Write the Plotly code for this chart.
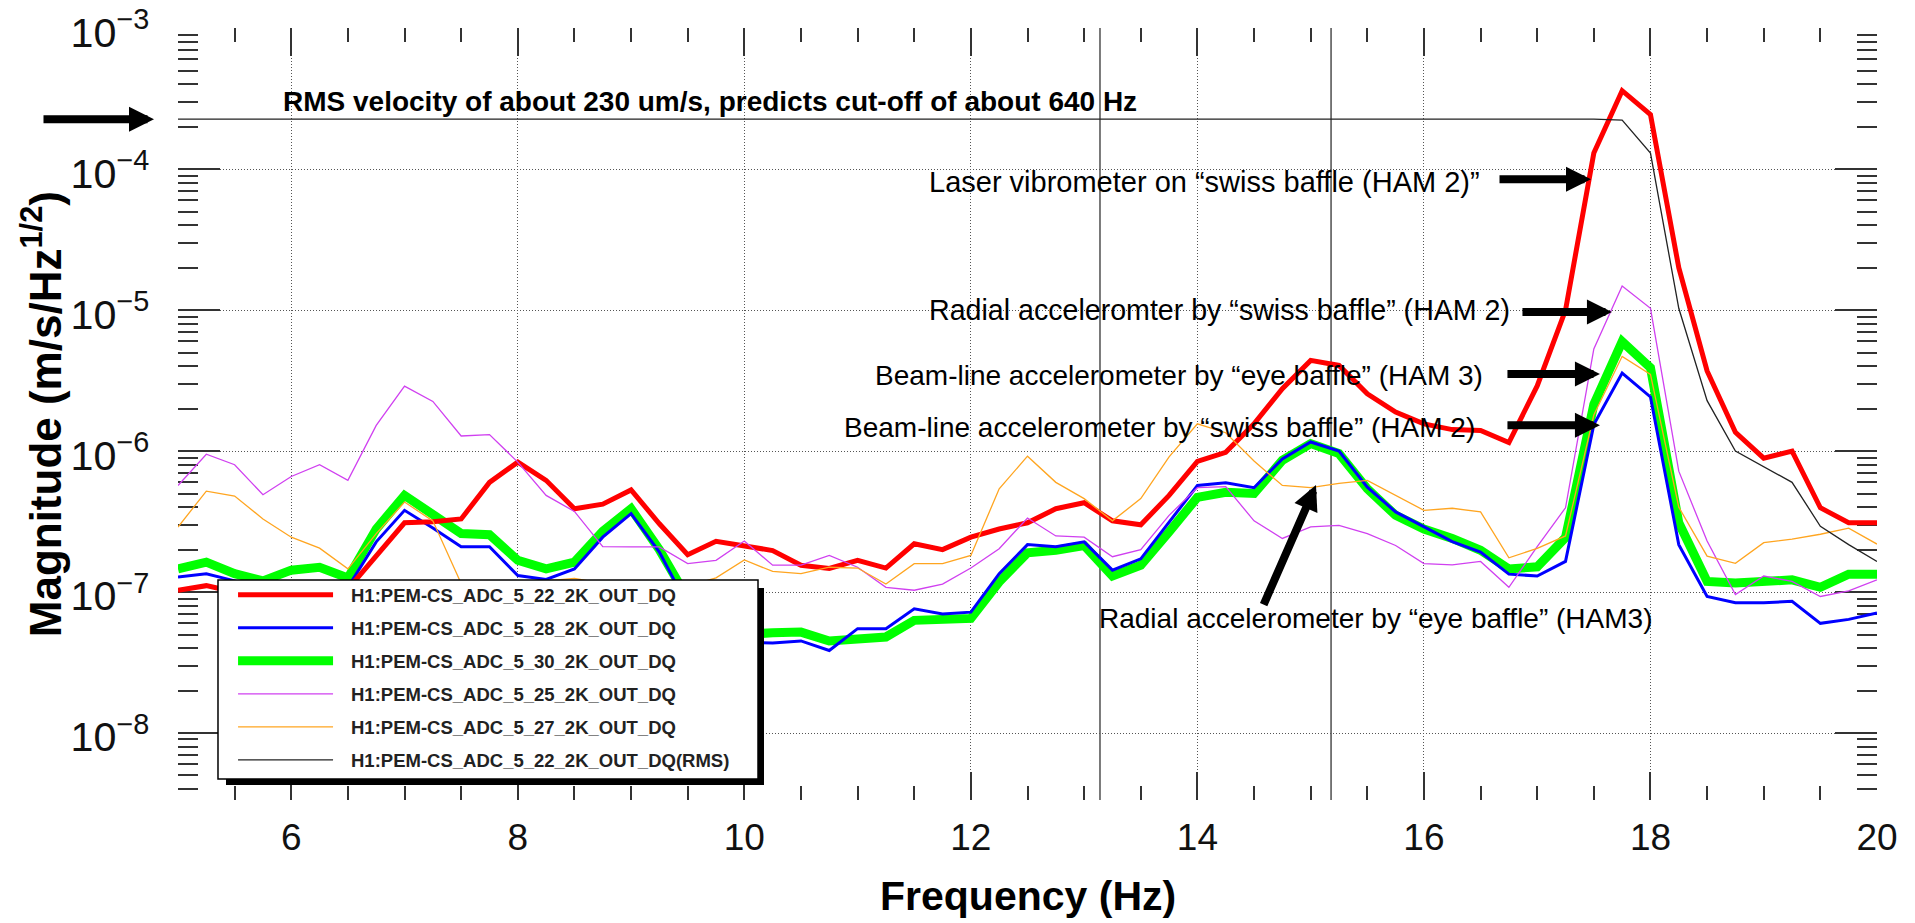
import plotly.graph_objects as go

# ---------------- data ----------------
freq = [5.0, 5.25, 5.5, 5.75, 6.0, 6.25, 6.5, 6.75, 7.0, 7.25, 7.5, 7.75,
        8.0, 8.25, 8.5, 8.75, 9.0, 9.25, 9.5, 9.75, 10.0, 10.25, 10.5, 10.75,
        11.0, 11.25, 11.5, 11.75, 12.0, 12.25, 12.5, 12.75, 13.0, 13.25, 13.5, 13.75,
        14.0, 14.25, 14.5, 14.75, 15.0, 15.25, 15.5, 15.75, 16.0, 16.25, 16.5, 16.75,
        17.0, 17.25, 17.5, 17.75, 18.0, 18.25, 18.5, 18.75, 19.0, 19.25, 19.5, 19.75,
        20.0]

adc_5_22 = [1.03e-7, 1.11e-7, 1.0e-7, 9.0e-8,
            9.0e-8, 1.0e-7, 1.05e-7, 1.82e-7,
            3.1e-7, 3.15e-7, 3.3e-7, 6.0e-7,
            8.35e-7, 6.2e-7, 3.9e-7, 4.2e-7,
            5.3e-7, 3.05e-7, 1.84e-7, 2.29e-7,
            2.14e-7, 1.97e-7, 1.55e-7, 1.47e-7,
            1.68e-7, 1.48e-7, 2.2e-7, 2.0e-7,
            2.45e-7, 2.8e-7, 3.1e-7, 3.9e-7,
            4.3e-7, 3.2e-7, 3.0e-7, 4.85e-7,
            8.45e-7, 9.8e-7, 1.56e-6, 2.77e-6,
            4.4e-6, 4.05e-6, 2.55e-6, 1.89e-6,
            1.56e-6, 1.42e-6, 1.4e-6, 1.15e-6,
            2.9e-6, 1.0e-5, 1.3e-4, 3.6e-4,
            2.44e-4, 2.0e-5, 3.7e-6, 1.36e-6,
            8.9e-7, 1.0e-6, 3.96e-7, 3.1e-7,
            3.1e-7]

adc_5_28 = [1.28e-7, 1.35e-7, 1.2e-7, 1.05e-7,
            1.12e-7, 1.15e-7, 1.08e-7, 2.27e-7,
            3.8e-7, 2.85e-7, 2.1e-7, 2.1e-7,
            1.31e-7, 1.23e-7, 1.46e-7, 2.45e-7,
            3.6e-7, 1.92e-7, 8.0e-8, 5.0e-8,
            4.4e-8, 4.36e-8, 4.5e-8, 3.85e-8,
            5.5e-8, 5.5e-8, 7.6e-8, 7.0e-8,
            7.2e-8, 1.35e-7, 2.17e-7, 2.1e-7,
            2.27e-7, 1.43e-7, 1.72e-7, 3.1e-7,
            5.7e-7, 5.96e-7, 5.5e-7, 8.8e-7,
            1.16e-6, 1.0e-6, 5.55e-7, 3.7e-7,
            2.9e-7, 2.28e-7, 1.92e-7, 1.34e-7,
            1.3e-7, 1.65e-7, 1.54e-6, 3.58e-6,
            2.42e-6, 2.17e-7, 9.3e-8, 8.4e-8,
            8.4e-8, 8.6e-8, 6.0e-8, 6.4e-8,
            7.1e-8]

adc_5_30 = [1.46e-7, 1.63e-7, 1.35e-7, 1.2e-7,
            1.43e-7, 1.5e-7, 1.26e-7, 2.8e-7,
            4.85e-7, 3.6e-7, 2.6e-7, 2.55e-7,
            1.68e-7, 1.46e-7, 1.63e-7, 2.7e-7,
            3.9e-7, 2.0e-7, 9.0e-8, 5.8e-8,
            5.0e-8, 5.15e-8, 5.2e-8, 4.5e-8,
            4.6e-8, 4.8e-8, 6.3e-8, 6.5e-8,
            6.5e-8, 1.18e-7, 1.9e-7, 1.98e-7,
            2.14e-7, 1.3e-7, 1.55e-7, 2.67e-7,
            4.7e-7, 5.1e-7, 5.0e-7, 8.6e-7,
            1.13e-6, 9.6e-7, 5.4e-7, 3.5e-7,
            2.8e-7, 2.4e-7, 1.98e-7, 1.46e-7,
            1.51e-7, 2.44e-7, 2.14e-6, 5.98e-6,
            3.9e-6, 3.1e-7, 1.19e-7, 1.16e-7,
            1.2e-7, 1.22e-7, 1.08e-7, 1.34e-7,
            1.34e-7]

adc_5_25 = [5.7e-7, 9.5e-7, 8.0e-7, 4.9e-7,
            6.6e-7, 8.0e-7, 6.2e-7, 1.52e-6,
            2.89e-6, 2.25e-6, 1.28e-6, 1.31e-6,
            8.35e-7, 4.85e-7, 3.73e-7, 2.1e-7,
            2.09e-7, 2.09e-7, 1.59e-7, 1.68e-7,
            2.3e-7, 1.55e-7, 1.55e-7, 1.82e-7,
            1.5e-7, 1.08e-7, 1.03e-7, 1.14e-7,
            1.48e-7, 2.03e-7, 3.35e-7, 2.5e-7,
            2.45e-7, 1.78e-7, 2.0e-7, 3.5e-7,
            5.5e-7, 5.6e-7, 3.2e-7, 2.4e-7,
            2.9e-7, 2.97e-7, 2.6e-7, 2.14e-7,
            1.59e-7, 1.56e-7, 1.65e-7, 1.08e-7,
            2.1e-7, 3.96e-7, 5.3e-6, 1.48e-5,
            1.03e-5, 7.2e-7, 2.3e-7, 9.6e-8,
            1.3e-7, 1.19e-7, 9.3e-8, 1.02e-7,
            1.22e-7]

adc_5_27 = [2.89e-7, 5.2e-7, 4.8e-7, 3.3e-7,
            2.45e-7, 2.05e-7, 1.46e-7, 2.6e-7,
            4.35e-7, 3.2e-7, 1.15e-7, 9.0e-8,
            1.0e-7, 1.2e-7, 1.25e-7, 1.15e-7,
            1.1e-7, 1.05e-7, 1.1e-7, 1.26e-7,
            1.69e-7, 1.4e-7, 1.35e-7, 1.5e-7,
            1.48e-7, 1.14e-7, 1.59e-7, 1.59e-7,
            1.82e-7, 5.4e-7, 9.2e-7, 6.0e-7,
            4.6e-7, 3.2e-7, 4.6e-7, 9.1e-7,
            1.56e-6, 1.35e-6, 8.5e-7, 5.7e-7,
            5.5e-7, 5.9e-7, 6.2e-7, 4.85e-7,
            3.8e-7, 3.93e-7, 3.7e-7, 1.75e-7,
            2.04e-7, 2.5e-7, 1.8e-6, 4.7e-6,
            3.5e-6, 4.0e-7, 1.8e-7, 1.6e-7,
            2.24e-7, 2.37e-7, 2.57e-7, 2.84e-7,
            2.19e-7]

adc_5_22_rms = [2.26e-4, 2.26e-4, 2.26e-4, 2.26e-4,
                2.26e-4, 2.26e-4, 2.26e-4, 2.26e-4,
                2.26e-4, 2.26e-4, 2.26e-4, 2.26e-4,
                2.26e-4, 2.26e-4, 2.26e-4, 2.26e-4,
                2.26e-4, 2.26e-4, 2.26e-4, 2.26e-4,
                2.26e-4, 2.26e-4, 2.26e-4, 2.26e-4,
                2.26e-4, 2.26e-4, 2.26e-4, 2.26e-4,
                2.26e-4, 2.26e-4, 2.26e-4, 2.26e-4,
                2.26e-4, 2.26e-4, 2.26e-4, 2.26e-4,
                2.26e-4, 2.26e-4, 2.26e-4, 2.26e-4,
                2.26e-4, 2.26e-4, 2.26e-4, 2.26e-4,
                2.26e-4, 2.26e-4, 2.26e-4, 2.26e-4,
                2.26e-4, 2.26e-4, 2.26e-4, 2.23e-4,
                1.3e-4, 1.03e-5, 2.28e-6, 1.0e-6,
                7.7e-7, 6.0e-7, 2.93e-7, 2.17e-7,
                1.65e-7]

channel_names = ["H1:PEM-CS_ADC_5_22_2K_OUT_DQ",
                 "H1:PEM-CS_ADC_5_28_2K_OUT_DQ",
                 "H1:PEM-CS_ADC_5_30_2K_OUT_DQ",
                 "H1:PEM-CS_ADC_5_25_2K_OUT_DQ",
                 "H1:PEM-CS_ADC_5_27_2K_OUT_DQ",
                 "H1:PEM-CS_ADC_5_22_2K_OUT_DQ(RMS)"]

marker_freqs = [13.14, 15.18]   # solid vertical lines

# ---------------- figure ----------------
FONT = "Liberation Sans, Arial, Helvetica, sans-serif"

styles = [  # colour, width, zorder
    ("#ff0000", 5, 2),
    ("#0000ff", 3, 1),
    ("#00ff00", 9, 0),
    ("#d040f0", 1.3, 3),
    ("#ffa520", 1.3, 4),
    ("#222222", 1.3, 5),
]
values = [adc_5_22, adc_5_28, adc_5_30, adc_5_25, adc_5_27, adc_5_22_rms]

fig = go.Figure()
for name, vals, (col, w, z) in zip(channel_names, values, styles):
    fig.add_trace(go.Scatter(x=freq, y=vals, mode="lines",
                             name="\u2002\u2009" + name,
                             legendgroup=name, zorder=z,
                             line=dict(color=col, width=w)))

axis_common = dict(
    automargin=False,
    showline=True, linewidth=2, linecolor="#333",
    mirror="ticks", ticks="inside", tickwidth=2, tickcolor="#333",
    showgrid=True, gridcolor="#555", gridwidth=1, griddash="1px,2px",
    zeroline=False,
)

fig.update_xaxes(range=[5, 20], tick0=0, dtick=2, ticklen=28,
                 ticklabelstandoff=4,
                 tickfont=dict(family=FONT, size=37, color="#111"),
                 minor=dict(dtick=0.5, ticks="inside", ticklen=14, tickwidth=2,
                            tickcolor="#333", showgrid=False),
                 **axis_common)
fig.update_yaxes(type="log", range=[-8.475, -2.999], dtick=1, exponentformat="power",
                 ticklen=42, ticklabelstandoff=20, ticklabeloverflow="allow",
                 ticklabelshift=4,
                 tickfont=dict(family=FONT, size=33, color="#111"),
                 minor=dict(dtick="D1", ticks="inside", ticklen=20, tickwidth=2,
                            tickcolor="#333", showgrid=False),
                 **axis_common)

shapes = []
for f in marker_freqs:
    shapes.append(dict(type="line", xref="x", yref="paper", x0=f, x1=f, y0=0, y1=1,
                       line=dict(color="#333", width=1.3), layer="below"))
# legend shadow + box
shapes.append(dict(type="rect", xref="paper", yref="paper",
                   x0=0.02825, x1=0.34491, y0=0.01943, y1=0.27461,
                   fillcolor="black", line=dict(width=0), layer="above"))
shapes.append(dict(type="rect", xref="paper", yref="paper",
                   x0=0.02354, x1=0.34138, y0=0.0272, y1=0.28497,
                   fillcolor="white", line=dict(color="black", width=1.5), layer="above"))

ann_font = dict(family=FONT, size=28, color="black")
arrow_style = dict(showarrow=True, arrowhead=2, arrowwidth=8, arrowsize=0.625,
                   arrowcolor="black", standoff=0, text="")

annotations = [
    dict(x=5.91, y=-3.518, xref="x", yref="y", xanchor="left", yanchor="middle",
         showarrow=False,
         text="<b>RMS velocity of about 230 um/s, predicts cut-off of about 640 Hz</b>",
         font=dict(family=FONT, size=28, color="black")),
    dict(x=-0.01413, y=-3.646, xref="paper", yref="y", ax=-112, ay=0, **arrow_style),

    dict(x=11.61, y=-4.092, xref="x", yref="y", xanchor="left", yanchor="middle",
         showarrow=False, text="Laser vibrometer on \u201cswiss baffle (HAM 2)\u201d",
         font=dict(family=FONT, size=29, color="black")),
    dict(x=17.475, y=-4.071, xref="x", yref="y", ax=-93, ay=0, **arrow_style),

    dict(x=11.61, y=-5.0, xref="x", yref="y", xanchor="left", yanchor="middle",
         showarrow=False, text="Radial acceleromter by \u201cswiss baffle\u201d (HAM 2)",
         font=dict(family=FONT, size=28.6, color="black")),
    dict(x=17.66, y=-5.014, xref="x", yref="y", ax=-91, ay=0, **arrow_style),

    dict(x=11.14, y=-5.461, xref="x", yref="y", xanchor="left", yanchor="middle",
         showarrow=False, text="Beam-line accelerometer by \u201ceye baffle\u201d (HAM 3)",
         font=ann_font),
    dict(x=17.554, y=-5.454, xref="x", yref="y", ax=-94, ay=0, **arrow_style),

    dict(x=10.86, y=-5.83, xref="x", yref="y", xanchor="left", yanchor="middle",
         showarrow=False, text="Beam-line accelerometer by \u201cswiss baffle\u201d (HAM 2)",
         font=ann_font),
    dict(x=17.554, y=-5.816, xref="x", yref="y", ax=-94, ay=0, **arrow_style),

    dict(x=13.11, y=-7.184, xref="x", yref="y", xanchor="left", yanchor="middle",
         showarrow=False, text="Radial accelerometer by \u201ceye baffle\u201d (HAM3)",
         font=ann_font),
    dict(x=15.047, y=-6.241, xref="x", yref="y", ax=-53, ay=121, **arrow_style),

    # axis titles
    dict(x=0.5, y=-0.124, xref="paper", yref="paper", xanchor="center", yanchor="middle",
         showarrow=False, text="<b>Frequency (Hz)</b>",
         font=dict(family=FONT, size=41, color="black")),
    dict(x=-0.0805, y=0.5, xref="paper", yref="paper", xanchor="center", yanchor="middle",
         showarrow=False, textangle=-90, text="<b>Magnitude (m/s/Hz<sup>1/2</sup>)</b>",
         font=dict(family=FONT, size=44, color="black")),
]

fig.update_layout(
    width=1915, height=923,
    margin=dict(l=178, r=38, t=28, b=123, autoexpand=False),
    paper_bgcolor="white", plot_bgcolor="white",
    font=dict(family=FONT, color="#111"),
    showlegend=True,
    legend=dict(x=0.0324, y=0.2900, xanchor="left", yanchor="top",
                bgcolor="rgba(0,0,0,0)", borderwidth=0,
                traceorder="grouped", tracegroupgap=6, itemwidth=95,
                font=dict(family=FONT, size=18.5, color="#222", weight="bold")),
    shapes=shapes,
    annotations=annotations,
)

# remove the browser's default 8 px page margin so the figure fills the window
fig.write_html("out.html",
               config={"displayModeBar": False},
               post_script="document.body.style.margin='0px';"
                           "document.body.style.overflow='hidden';")
